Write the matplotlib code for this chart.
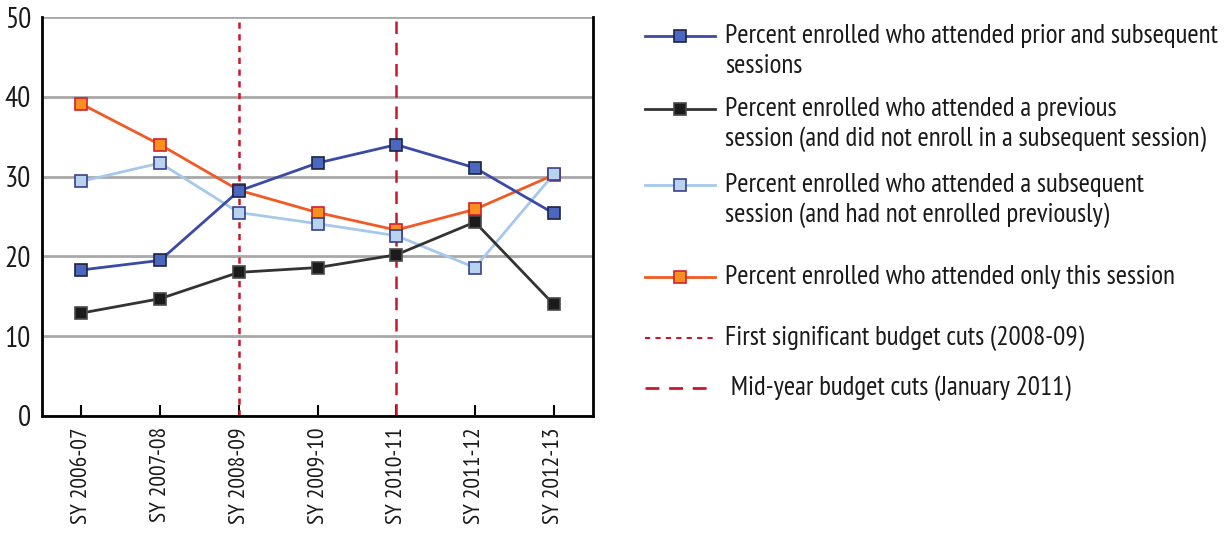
import matplotlib
matplotlib.use("Agg")
import matplotlib.pyplot as plt
from matplotlib.lines import Line2D

plt.rcParams['font.family'] = ['PT Sans Narrow', 'Liberation Sans Narrow', 'DejaVu Sans']

years = ['SY 2006-07', 'SY 2007-08', 'SY 2008-09', 'SY 2009-10',
         'SY 2010-11', 'SY 2011-12', 'SY 2012-13']
prior_and_subsequent = [18.3, 19.5, 28.2, 31.7, 34.0, 31.1, 25.4]
previous_only = [12.9, 14.7, 18.0, 18.6, 20.2, 24.3, 14.0]
subsequent_only = [29.4, 31.7, 25.5, 24.1, 22.6, 18.6, 30.3]
this_session_only = [39.1, 34.0, 28.3, 25.5, 23.3, 25.9, 30.2]

first_cuts_idx = 2   # SY 2008-09
midyear_cuts_idx = 4  # SY 2010-11

labels = [
    'Percent enrolled who attended prior and subsequent\nsessions',
    'Percent enrolled who attended a previous\nsession (and did not enroll in a subsequent session)',
    'Percent enrolled who attended a subsequent\nsession (and had not enrolled previously)',
    'Percent enrolled who attended only this session',
    'First significant budget cuts (2008-09)',
    ' Mid-year budget cuts (January 2011)',
]

CUT_RED = '#c8182c'
styles = [
    dict(color='#3a4aa6', mfc='#4a68c0', mec='#1e2440', zorder=6),
    dict(color='#333333', mfc='#1b1b1b', mec='#4a4a4a', zorder=5),
    dict(color='#a6c8ea', mfc='#b8d3ee', mec='#3a3f8c', zorder=4),
    dict(color='#f15a24', mfc='#f7901e', mec='#d4202c', zorder=3),
]
series = [prior_and_subsequent, previous_only, subsequent_only, this_session_only]

fig = plt.figure(figsize=(12.28, 5.33), dpi=100)
W, H = 1228, 533
ax = fig.add_axes([42 / W, 1 - 416 / H, (593 - 42) / W, (416 - 17) / H])

x = list(range(len(years)))
for vals, st in zip(series, styles):
    ax.plot(x, vals, color=st['color'], lw=2, marker='s', ms=9,
            mfc=st['mfc'], mec=st['mec'], mew=1.2, zorder=st['zorder'])

ax.axvline(first_cuts_idx, color=CUT_RED, lw=1.8, ls=(0, (2.5, 2.2)), zorder=2)
ax.axvline(midyear_cuts_idx, color=CUT_RED, lw=1.8, ls=(0, (5, 3.5)), zorder=2)

ax.set_xlim(-0.5, 6.5)
ax.set_ylim(0, 50)
ax.set_yticks([0, 10, 20, 30, 40, 50])
ax.yaxis.grid(True, color='#a8a8a8', lw=2)
ax.set_axisbelow(True)
ax.tick_params(axis='y', length=0, pad=8, labelsize=21, labelcolor='#1a1a1a')
ax.set_xticks(x)
ax.set_xticklabels(years, rotation=90, fontsize=17, color='#1a1a1a')
ax.tick_params(axis='x', direction='in', length=8, width=1.5, pad=8)

for side in ['left', 'bottom', 'right']:
    ax.spines[side].set_linewidth(2)
    ax.spines[side].set_color('black')
ax.spines['top'].set_visible(False)

# hand-placed legend on the right
handle_y = [36, 109, 185, 277, 338, 388]
line_gap = 30
kinds = ['s0', 's1', 's2', 's3', 'dot', 'dash']
for lab, hy, kind in zip(labels, handle_y, kinds):
    yy = 1 - hy / H
    if kind.startswith('s'):
        st = styles[int(kind[1])]
        fig.add_artist(Line2D([645 / W, 715 / W], [yy, yy], color=st['color'], lw=2,
                              transform=fig.transFigure))
        fig.add_artist(Line2D([680 / W], [yy], marker='s', ms=8, mfc=st['mfc'],
                              mec=st['mec'], mew=1.2, transform=fig.transFigure))
    elif kind == 'dot':
        fig.add_artist(Line2D([645 / W, 715 / W], [yy, yy], color=CUT_RED, lw=1.5,
                              ls=(0, (2.5, 2.5)), transform=fig.transFigure))
    else:
        fig.add_artist(Line2D([645 / W, 715 / W], [yy, yy], color=CUT_RED, lw=2,
                              ls=(0, (5, 3.5)), transform=fig.transFigure))
    for k, part in enumerate(lab.split('\n')):
        fig.text(725 / W, 1 - (hy + k * line_gap) / H, part, fontsize=19.5,
                 va='center', ha='left', color='#1a1a1a')

fig.savefig('out.png', dpi=100)
